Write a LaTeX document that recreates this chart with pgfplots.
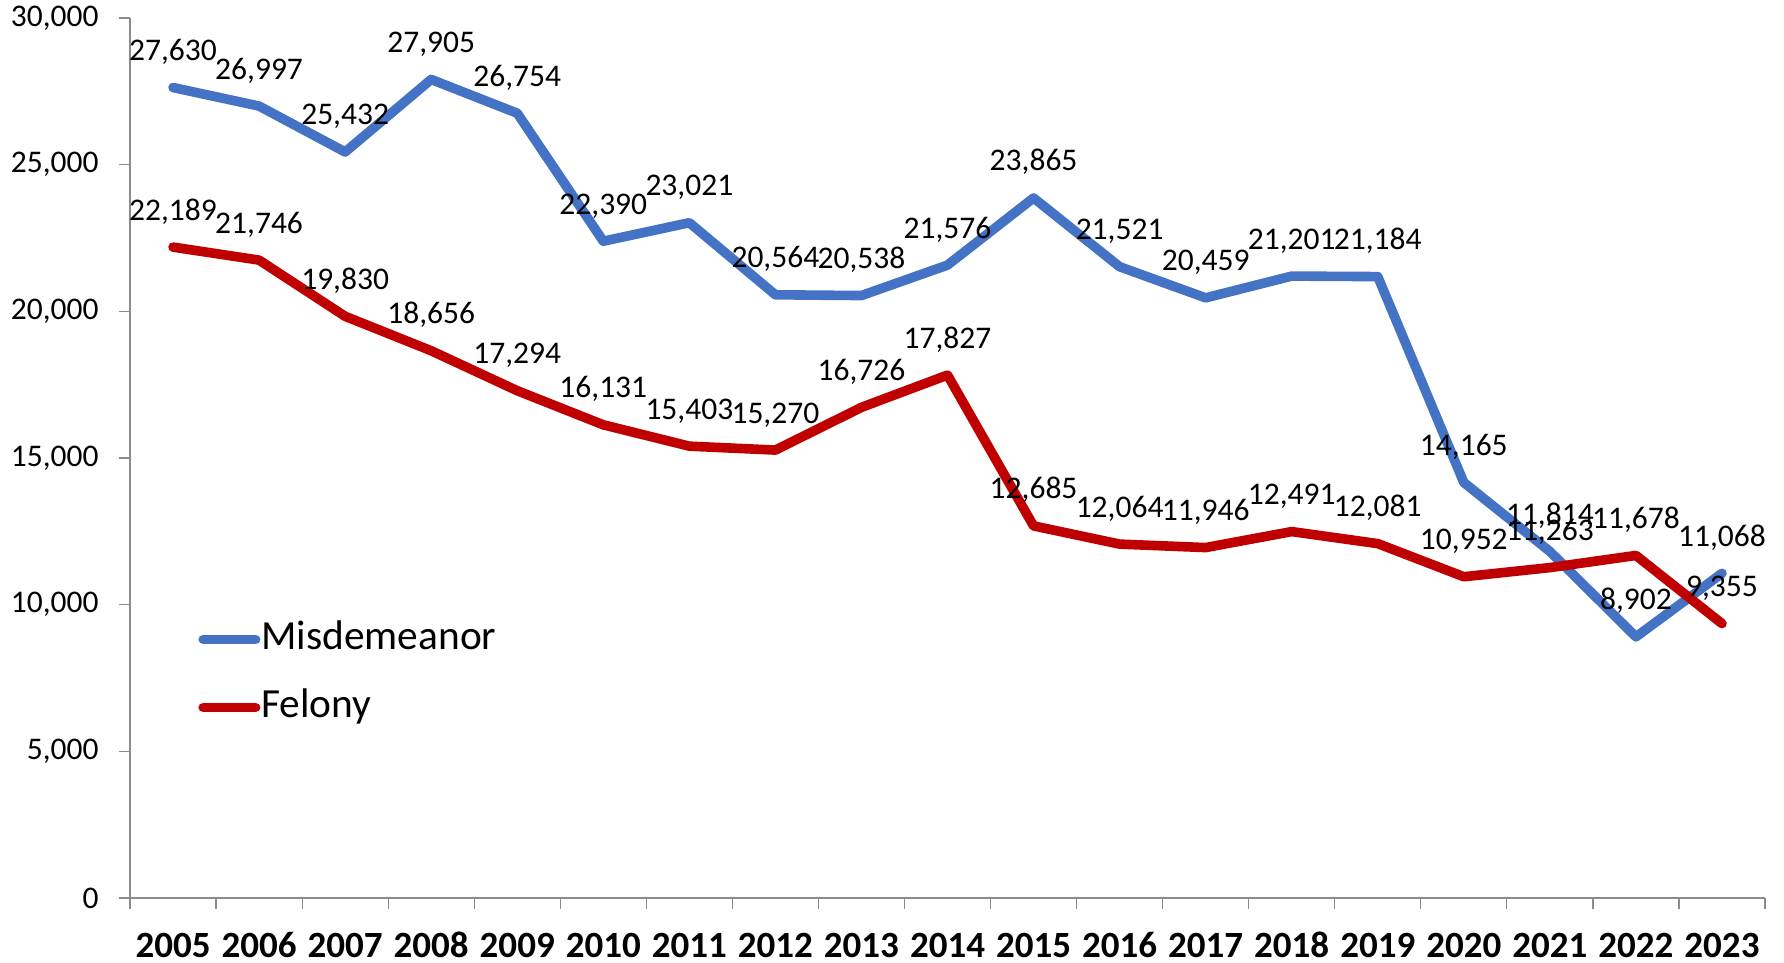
\documentclass[border=0pt]{standalone}
\usepackage{fontspec}
\setmainfont{Carlito}
\usepackage{pgfplots}
\usepackage{pgfplotstable}
\pgfplotsset{compat=1.18}
\definecolor{misd}{HTML}{4472C4}
\definecolor{fel}{HTML}{C00000}
\definecolor{axgray}{HTML}{8C8C8C}

\pgfplotstableread{
x m f
0 27630 22189
1 26997 21746
2 25432 19830
3 27905 18656
4 26754 17294
5 22390 16131
6 23021 15403
7 20564 15270
8 20538 16726
9 21576 17827
10 23865 12685
11 21521 12064
12 20459 11946
13 21201 12491
14 21184 12081
15 14165 10952
16 11814 11263
17 8902 11678
18 11068 9355
}\data

\begin{document}
\begin{tikzpicture}
\begin{axis}[
  at={(0,0)}, anchor=south west,
  scale only axis, width=817.5pt, height=440pt,
  xmin=-0.5, xmax=18.5, ymin=0, ymax=30000,
  axis x line=bottom, axis y line=left,
  axis line style={-, draw=axgray, line width=0.6pt},
  tick style={draw=axgray, line width=0.6pt},
  tick align=outside,
  major tick length=5.5pt,
  xtick={-0.5,0.5,...,18.5},
  xticklabels={},
  extra x ticks={0,...,18},
  extra x tick labels={2005,2006,2007,2008,2009,2010,2011,2012,2013,2014,2015,2016,2017,2018,2019,2020,2021,2022,2023},
  extra x tick style={tick style={draw=none}},
  xticklabel style={font=\fontsize{18.5}{20}\selectfont\bfseries, text=black, anchor=base, inner sep=0pt, yshift=-24.5pt},
  ytick={0,5000,...,30000},
  scaled y ticks=false,
  yticklabel style={font=\fontsize{15.75}{18}\selectfont, text=black, anchor=east, inner sep=0pt, xshift=-10pt},
  /pgf/number format/.cd, 1000 sep={,}, assume math mode=true,
  /pgfplots/.cd,
  legend style={at={(0.0416,0.317)}, anchor=north west, draw=none, fill=none,
    inner sep=0pt, row sep=14pt, column sep=0.5pt,
    nodes={inner sep=0pt, text height=15pt, text depth=5pt, font=\fontsize{20.7}{24}\selectfont}},
  legend cell align=left,
  legend image code/.code={\draw[#1, line cap=round] (2.4pt,0pt) -- (28.6pt,0pt);},
  every node near coord/.append style={font=\fontsize{15.75}{18}\selectfont, text=black, inner sep=0pt},
  nodes near coords style={anchor=base, yshift=13.5pt},
]
\addplot[misd, line width=4.8pt, line join=round, line cap=round] table[x=x,y=m]{\data};
\addlegendentry{Misdemeanor}
\addplot[fel, line width=4.8pt, line join=round, line cap=round] table[x=x,y=f]{\data};
\addlegendentry{Felony}
\addplot[draw=none, mark=none, forget plot, nodes near coords] table[x=x,y=m]{\data};
\addplot[draw=none, mark=none, forget plot, nodes near coords] table[x=x,y=f]{\data};
\end{axis}
\pgfresetboundingbox
\path[use as bounding box] (-65pt,-32.5pt) rectangle (827pt,449pt);
\end{tikzpicture}
\end{document}
